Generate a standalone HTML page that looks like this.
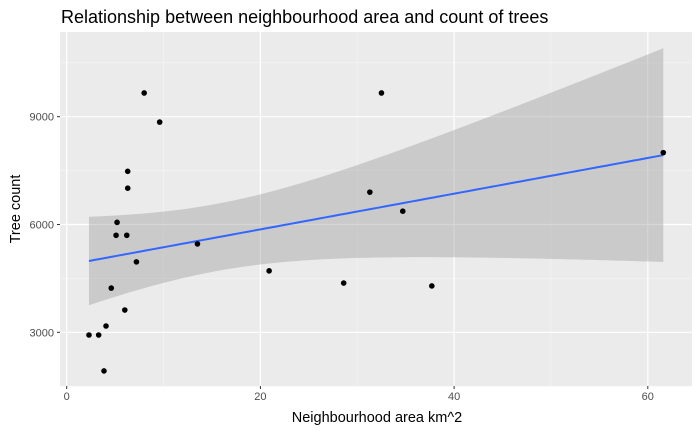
<!DOCTYPE html>
<html><head><meta charset="utf-8"><style>
body{margin:0;background:#fff;}
svg text{font-family:"Liberation Sans",Arial,sans-serif;}
</style></head><body>
<svg id="chart" width="700" height="432">
<text x="61" y="23" font-size="18" fill="#000">Relationship between neighbourhood area and count of trees</text>
<rect x="60" y="32" width="632" height="354" fill="#ebebeb"/>
<g id="grid"></g><g id="band"></g><g id="line"></g><g id="points"></g><g id="axes"></g>
<text x="377" y="422" font-size="14.5" text-anchor="middle" fill="#000">Neighbourhood area km^2</text>
<text transform="translate(20,209) rotate(-90)" font-size="14.5" text-anchor="middle" fill="#000">Tree count</text>
</svg>
<script>
const areas=[2.3,3.3,4.06,3.85,4.6,6.0,5.1,5.2,6.2,6.3,6.3,7.2,8.0,9.6,13.5,20.9,28.6,31.3,32.5,34.7,37.7,61.6];
const counts=[2925,2925,3175,1925,4230,3620,5700,6060,5700,7010,7480,4960,9660,8850,5460,4710,4370,6900,9660,6370,4290,8000];
const xTicks=[0,20,40,60];
const yTicks=[3000,6000,9000];
const NS='http://www.w3.org/2000/svg';
const X=v=>66.7+v*(193.7/20);
const Y=v=>332.3-(v-3000)*(107.8/3000);
function mk(parent,tag,attrs){const e=document.createElementNS(NS,tag);for(const k in attrs)e.setAttribute(k,attrs[k]);document.getElementById(parent).appendChild(e);return e;}
const minors=[];for(let i=0;i<xTicks.length-1;i++)minors.push((xTicks[i]+xTicks[i+1])/2);
minors.forEach(v=>{const e=mk('grid','line',{x1:X(v),x2:X(v),y1:32,y2:386,stroke:'#f5f5f5','stroke-width':0.6});

});
const yMin=[1500,4500,7500,10500];
yMin.forEach(v=>{const e=mk('grid','line',{x1:60,x2:692,y1:Y(v),y2:Y(v),stroke:'#f5f5f5','stroke-width':0.6});

});
xTicks.forEach(v=>{const e=mk('grid','line',{x1:X(v),x2:X(v),y1:32,y2:386,stroke:'#fff','stroke-width':1.2});


const t=mk('axes','line',{x1:X(v),x2:X(v),y1:386,y2:389,stroke:'#333'});


const l=mk('axes','text',{x:X(v),y:400,'font-size':11,'text-anchor':'middle',fill:'#4d4d4d'});l.textContent=v;

});
yTicks.forEach(v=>{const e=mk('grid','line',{x1:60,x2:692,y1:Y(v),y2:Y(v),stroke:'#fff','stroke-width':1.2});


const t=mk('axes','line',{x1:57,x2:60,y1:Y(v),y2:Y(v),stroke:'#333'});


const l=mk('axes','text',{x:54,y:Y(v)+4,'font-size':11,'text-anchor':'end',fill:'#4d4d4d'});l.textContent=v;

});
const n=areas.length,mx=areas.reduce((a,b)=>a+b)/n,my=counts.reduce((a,b)=>a+b)/n;
let sxx=0,sxy=0;for(let i=0;i<n;i++){sxx+=(areas[i]-mx)**2;sxy+=(areas[i]-mx)*(counts[i]-my);}
const b=sxy/sxx,a=my-b*mx;let sse=0;for(let i=0;i<n;i++)sse+=(counts[i]-a-b*areas[i])**2;
const s=Math.sqrt(sse/(n-2)),tq=2.086;
const x0=Math.min(...areas),x1=Math.max(...areas);
const up=[],lo=[],ln=[];
for(let k=0;k<=80;k++){const x=x0+(x1-x0)*k/80,f=a+b*x,h=tq*s*Math.sqrt(1/n+(x-mx)**2/sxx);
up.push(X(x)+','+Y(f+h));lo.unshift(X(x)+','+Y(f-h));ln.push(X(x)+','+Y(f));}
const band=mk('band','polygon',{points:up.concat(lo).join(' '),fill:'#999','fill-opacity':0.4});


const line=mk('line','polyline',{points:ln.join(' '),fill:'none',stroke:'#3366ff','stroke-width':2});


areas.forEach((v,i)=>{const c=mk('points','circle',{cx:X(v),cy:Y(counts[i]),r:2.8,fill:'#000'});

});
</script>
</body></html>
